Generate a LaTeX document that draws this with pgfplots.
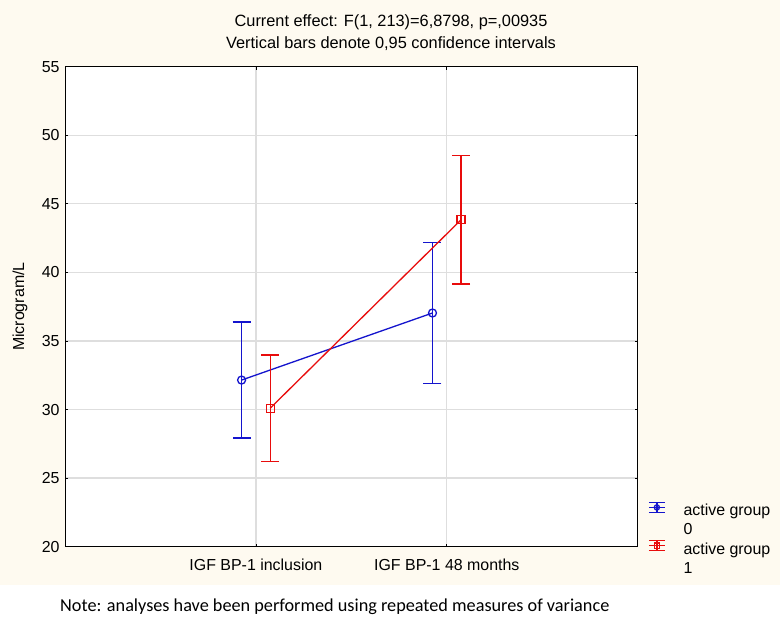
\documentclass[border=0pt]{standalone}
\usepackage{fontspec}
\setmainfont{Liberation Sans}
\newfontfamily\notefont{Carlito}
\usepackage{pgfplots}
\pgfplotsset{compat=1.18}
\definecolor{cream}{RGB}{254,250,240}
\definecolor{sblue}{RGB}{20,20,205}
\definecolor{sred}{RGB}{232,12,12}
\definecolor{gridc}{RGB}{222,222,222}
\begin{document}
\begin{tikzpicture}[x=1bp,y=1bp]
\useasboundingbox (0,0) rectangle (780,620);
\fill[white] (0,0) rectangle (780,620);
\fill[cream] (0,35) rectangle (780,620);
\node[font=\fontsize{16.4}{19}\selectfont] at (391,598) {Current effect: F(1, 213)=6,8798, p=,00935};
\node[font=\fontsize{16.4}{19}\selectfont] at (391,576.5) {Vertical bars denote 0,95 confidence intervals};
\node[font=\notefont\fontsize{18.3}{21}\selectfont, anchor=west, inner sep=0pt] at (60,13.5) {Note: analyses have been performed using repeated measures of variance};
\begin{axis}[
  at={(65bp,73.3bp)}, anchor=south west,
  scale only axis, width=572.7bp, height=480bp,
  xmin=-1, xmax=2, ymin=20, ymax=55,
  xtick={0,1}, xticklabels={IGF BP-1 inclusion, IGF BP-1 48 months},
  ytick={20,25,...,55},
  grid=major, grid style={gridc, line width=1.3bp},
  axis line style={line width=1bp},
  tick align=inside, major tick length=3bp,
  tick style={black, line width=0.8bp},
  axis background/.style={fill=white},
  ticklabel style={font=\fontsize{16}{19}\selectfont},
  /pgf/number format/assume math mode=true,
  ylabel={Microgram/L},
  every axis y label/.style={at={(axis description cs:-0.0786,0.5)}, rotate=90, anchor=center, font=\fontsize{16}{19}\selectfont},
  yticklabel style={xshift=-2bp},
  xticklabel style={yshift=-9bp},
  legend style={at={(rel axis cs:1.018,0.094)}, anchor=north west, draw=none, fill=none,
     font=\fontsize{16}{19}\selectfont, row sep=0pt, inner sep=0pt,
     nodes={inner sep=0pt, text height=14bp, text depth=5bp}, column sep=18bp},
  legend cell align=left,
  legend image code/.code={
    \draw[#1, mark=none] (0bp,4bp) -- (16bp,4bp);
    \draw[#1, mark=none] (0bp,9bp) -- (16bp,9bp);
    \draw[#1, mark=none] (0bp,-1bp) -- (16bp,-1bp);
    \draw[#1, mark=none] (8bp,-1bp) -- (8bp,9bp);
    \draw[#1, mark size=2.6bp] plot coordinates {(8bp,4bp)};
  },
]
\addplot[sblue, line width=1.3bp, mark=o, mark size=4bp, mark options={line width=1.3bp},
  error bars/.cd, y dir=both, y explicit,
  error bar style={sblue, line width=1.3bp},
  error mark options={rotate=90, mark size=9bp, line width=1.3bp, sblue}]
  coordinates {(-0.075,32.15) +- (0,4.23) (0.925,37.04) +- (0,5.15)};
\addlegendentry{active group}
\addlegendimage{empty legend}
\addlegendentry{0}
\addplot[sred, line width=1.3bp, mark=square, mark size=4bp, mark options={line width=1.3bp},
  error bars/.cd, y dir=both, y explicit,
  error bar style={sred, line width=1.3bp},
  error mark options={rotate=90, mark size=9bp, line width=1.3bp, sred}]
  coordinates {(0.075,30.1) +- (0,3.88) (1.075,43.84) +- (0,4.69)};
\addlegendentry{active group}
\addlegendimage{empty legend}
\addlegendentry{1}
\end{axis}
\end{tikzpicture}
\end{document}
